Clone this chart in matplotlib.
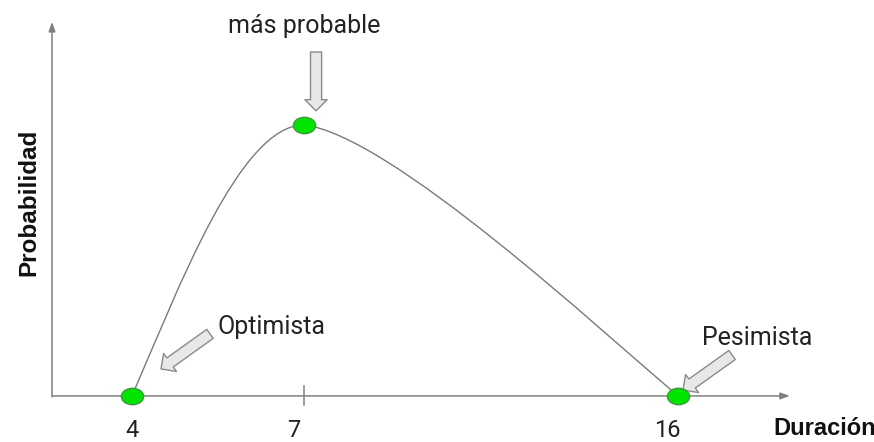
import numpy as np
import matplotlib
matplotlib.use("Agg")
import matplotlib.pyplot as plt
from matplotlib.path import Path
from matplotlib.patches import PathPatch
from matplotlib.transforms import Affine2D

# Duraciones clave (optimista, más probable, pesimista)
durations = [4, 7, 16]
duration_labels = ["4", "7", "16"]
point_prob = [0.0, 1.0, 0.0]

# Curva del dibujo: dos tramos Bézier cúbicos (puntos extremos y de control)
# (duración, probabilidad relativa)
curve_x = [4.0, 4.80, 5.88, 7.0, 9.07, 14.12, 16.0]
curve_y = [0.0, 0.391, 1.0, 1.0, 0.963, 0.244, 0.0]


# escala esquemática: el tramo 4-7 está más estirado que el tramo 7-16
def fwd(d):
    d = np.asarray(d, dtype=float)
    return np.where(d < 7, (d - 4) * 57.33, 172 + (d - 7) * 41.56)


def inv(p):
    p = np.asarray(p, dtype=float)
    return np.where(p < 172, 4 + p / 57.33, 7 + (p - 172) / 41.56)


fig = plt.figure(figsize=(8.74, 4.42), dpi=100)
ax = fig.add_axes([0, 0, 1, 1])
ax.set_xscale("function", functions=(fwd, inv))
ax.set_xlim(1.6975, 20.715)
ax.set_ylim(-0.170, 1.461)
ax.axis("off")

axis_color = "#808080"
# ejes con flecha
ax.annotate("", xy=(2.605, 1.38), xytext=(2.605, -0.004),
            arrowprops=dict(arrowstyle="-|>,head_length=0.55,head_width=0.2",
                            color=axis_color, lw=1.1, shrinkA=0, shrinkB=0,
                            mutation_scale=10))
ax.annotate("", xy=(18.69, 0), xytext=(2.605, 0),
            arrowprops=dict(arrowstyle="-|>,head_length=0.55,head_width=0.2",
                            color=axis_color, lw=1.1, shrinkA=0, shrinkB=0,
                            mutation_scale=10))
ax.plot([7, 7], [-0.033, 0.037], color=axis_color, lw=1.1)

# curva
codes = [Path.MOVETO] + [Path.CURVE4] * (len(curve_x) - 1)
curve = Path(np.column_stack([curve_x, curve_y]), codes)
ax.add_patch(PathPatch(curve, fill=False, edgecolor="#7a7a7a", lw=1.0, zorder=3))

# puntos verdes (elipses)
ellipse = Path.unit_circle().transformed(Affine2D().scale(1.0, 0.74))
ax.plot(durations, point_prob, linestyle="none", marker=ellipse, markersize=16,
        markerfacecolor="#00e400", markeredgecolor="#3f9a3f", markeredgewidth=1.0,
        zorder=5)

# etiquetas del eje x
label_dx = [0, -7.2, -7.9]
for d, lab, dx in zip(durations, duration_labels, label_dx):
    ax.annotate(lab, (d, 0), xytext=(dx, -29.8), textcoords="offset points",
                ha="center", va="baseline", fontsize=17, family="Roboto",
                color="#222222")

ax.text(18.285, -0.144, "Duración", ha="left", va="baseline", fontsize=17,
        family="Liberation Sans", fontweight="bold", color="#111111")
ax.text(2.308, 0.716, "Probabilidad", rotation=90, rotation_mode="anchor",
        ha="center", va="baseline", fontsize=17.5, family="Liberation Sans",
        fontweight="bold", color="#111111")

# flechas de bloque y anotaciones
block = dict(arrowstyle="simple,head_length=0.4,head_width=0.8,tail_width=0.4",
             fc="#e8e8e8", ec="#8a8a8a", lw=1.0, shrinkA=0, shrinkB=0,
             mutation_scale=20)
ax.annotate("", xy=(7.29, 1.052), xytext=(7.29, 1.269), arrowprops=block)
ax.annotate("", xy=(4.506, 0.0996), xytext=(5.36, 0.229), arrowprops=block)
ax.annotate("", xy=(16.12, 0.022), xytext=(17.30, 0.151), arrowprops=block)

ax.text(7.0, 1.339, "más probable", ha="center", va="baseline", fontsize=18,
        family="Roboto", color="#222222")
ax.text(5.50, 0.229, "Optimista", ha="left", va="baseline", fontsize=18,
        family="Roboto", color="#222222")
ax.text(16.58, 0.188, "Pesimista", ha="left", va="baseline", fontsize=18,
        family="Roboto", color="#222222")

fig.savefig("out.png", dpi=100)
